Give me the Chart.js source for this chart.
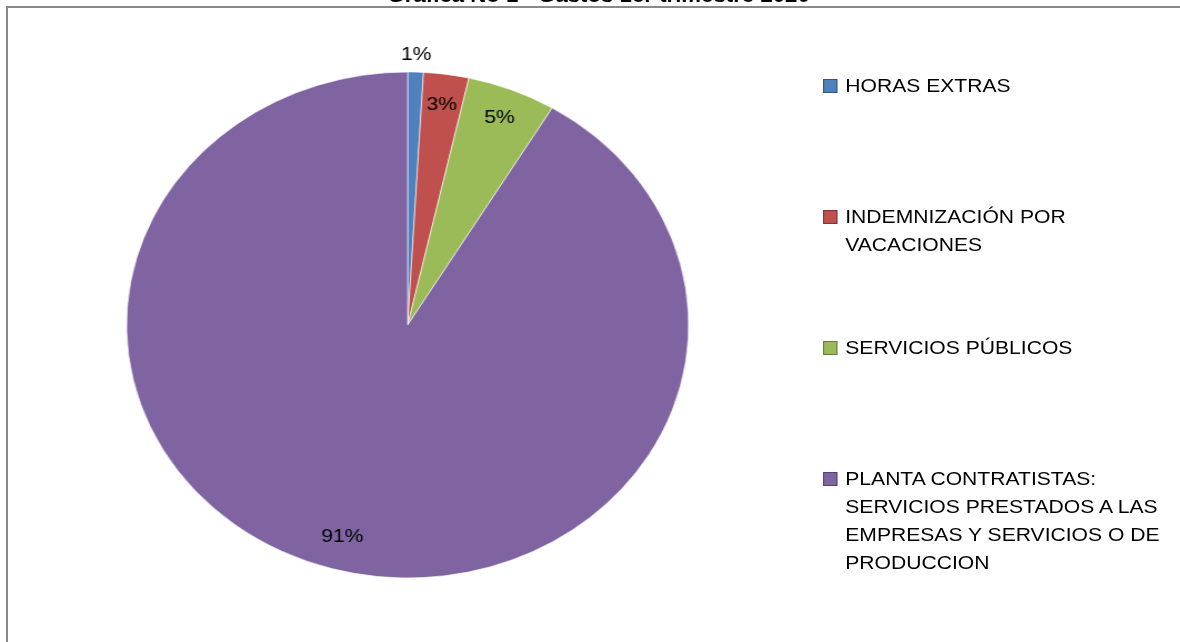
<!DOCTYPE html>
<html>
<head>
<meta charset="utf-8">
<script src="https://cdn.jsdelivr.net/npm/chart.js@4.4.1/dist/chart.umd.min.js"></script>
<style>
    html, body { margin: 0; padding: 0; background: #fff; overflow: hidden; }
    body { width: 1180px; height: 642px; position: relative; }
    #frame {
        position: absolute; left: 6px; top: 6px; width: 1200px; height: 660px;
        border-left: 2px solid #8a8a8a; border-top: 2px solid #8a8a8a;
    }
    /* the reference is stretched sideways, so the whole chart is drawn narrow and widened */
    #stage {
        position: absolute; left: 0; top: 0; width: 1062px; height: 642px;
        transform: scaleX(1.1107); transform-origin: 0 0;
    }
    #title {
        position: absolute; left: 0; top: -15px; width: 1078px; text-align: center;
        font: bold 20px "Liberation Sans", Arial, sans-serif; line-height: 20px; color: #000;
        background: transparent;
    }
    #legend { position: absolute; left: 741px; top: 0; }
    .item { position: absolute; left: 0; width: 320px; }
    .box {
        position: absolute; left: 0; top: 7px; width: 11px; height: 12px;
        border: 1px solid rgba(0,0,0,0.35);
    }
    .txt {
        position: absolute; left: 20px; width: 292px;
        font: 19px "Liberation Sans", Arial, sans-serif; line-height: 28px; color: #000;
    }
    canvas { position: absolute; left: 0; top: 0; }
</style>
</head>
<body>
<div id="frame"></div>
<div id="stage">
    <canvas id="chart" width="1062" height="642"></canvas>
    <div id="legend"></div>
    <div id="title"></div>
</div>
<script>
const chartTitle = "Gráfica No 1 - Gastos 1er trimestre 2020";
const categories = [
    "HORAS EXTRAS",
    "INDEMNIZACIÓN POR VACACIONES",
    "SERVICIOS PÚBLICOS",
    "PLANTA CONTRATISTAS: SERVICIOS PRESTADOS A LAS EMPRESAS Y SERVICIOS O DE PRODUCCION"
];
const shares = [0.9, 2.6, 5.1, 91.4];
const sliceColors = ["#4F81BD", "#C0504D", "#9BBB59", "#8064A2"];

// where each percentage sits, as a fraction of the radius
const labelRadius = [1.07, 0.88, 0.88, 0.87];

document.getElementById("title").textContent = chartTitle;

const legendEl = document.getElementById("legend");
categories.forEach((name, i) => {
    const item = document.createElement("div");
    item.className = "item";
    item.style.top = (72 + i * 131) + "px";
    const box = document.createElement("div");
    box.className = "box";
    box.style.background = sliceColors[i];
    const txt = document.createElement("div");
    txt.className = "txt";
    txt.textContent = name;
    item.appendChild(box);
    item.appendChild(txt);
    legendEl.appendChild(item);
});

const percentLabels = {
    id: "percentLabels",
    afterDatasetsDraw(chart) {
        const ctx = chart.ctx;
        const meta = chart.getDatasetMeta(0);
        const data = chart.data.datasets[0].data;
        const total = data.reduce((a, b) => a + b, 0);
        ctx.save();
        ctx.font = '19px "Liberation Sans", Arial, sans-serif';
        ctx.fillStyle = "#000";
        ctx.textAlign = "center";
        ctx.textBaseline = "middle";
        meta.data.forEach((arc, i) => {
            const p = arc.getProps(["x", "y", "startAngle", "endAngle", "outerRadius"], true);
            const mid = (p.startAngle + p.endAngle) / 2;
            const r = p.outerRadius * labelRadius[i];
            const txt = Math.round(data[i] / total * 100) + "%";
            ctx.fillText(txt, p.x + Math.cos(mid) * r, p.y + Math.sin(mid) * r);
        });
        ctx.restore();
    }
};

const ctx = document.getElementById("chart").getContext("2d");
new Chart(ctx, {
    type: "pie",
    data: {
        labels: categories,
        datasets: [{
            data: shares,
            backgroundColor: sliceColors,
            borderColor: "rgba(255,255,255,0.6)",
            borderWidth: 1
        }]
    },
    options: {
        responsive: false,
        animation: false,
        radius: 253,
        layout: { padding: { top: 8, bottom: 0, left: 0, right: 328 } },
        plugins: {
            legend: { display: false },
            title: { display: false },
            tooltip: { enabled: false }
        }
    },
    plugins: [percentLabels]
});
</script>
</body>
</html>
